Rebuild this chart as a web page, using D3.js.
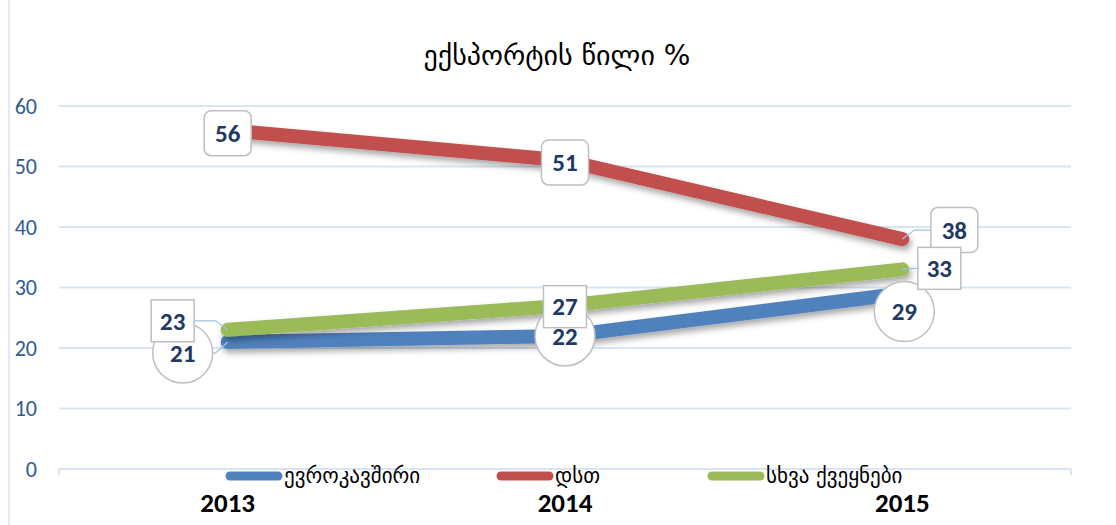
<!DOCTYPE html>
<html>
<head>
<meta charset="utf-8">
<script src="https://cdn.jsdelivr.net/npm/d3@7"></script>
<style>
  body { margin: 0; background: #fff; }
  svg { display: block; }
</style>
</head>
<body>
<div id="chart"></div>
<script>
// Chart data
const years = ["2013", "2014", "2015"];
const seriesNames = ["ევროკავშირი", "დსთ", "სხვა ქვეყნები"];
const euValues = [21, 22, 29];
const cisValues = [56, 51, 38];
const otherValues = [23, 27, 33];
const yTicks = [0, 10, 20, 30, 40, 50, 60];

const colors = ["#4F81BD", "#C0504D", "#9BBB59"];
const labelShapes = ["circle", "rounded", "square"];
// label offsets from the point (pixels), per series per year
const labelOffsets = [
  [[-45, 11], [0, 0], [2, 18]],
  [[0, 3], [0, 2], [52, -9]],
  [[-55, -9], [0, 1], [37, -1]]
];

const numFont = "Carlito, Calibri, Lato, sans-serif";
const geoFont = "'DejaVu Sans', sans-serif";

const width = 1116, height = 525;
const svg = d3.select("#chart").append("svg")
  .attr("width", width)
  .attr("height", height);

const defs = svg.append("defs");
const shadow = defs.append("filter").attr("id", "shadow")
  .attr("x", "-10%").attr("y", "-50%").attr("width", "120%").attr("height", "200%");
shadow.append("feDropShadow")
  .attr("dx", 2).attr("dy", 4).attr("stdDeviation", 3)
  .attr("flood-color", "#000").attr("flood-opacity", 0.35);

const x = d3.scaleBand().domain(years).range([59, 1071]);
const y = d3.scaleLinear().domain([0, 60]).range([469, 106]);
const cx = d => x(d) + x.bandwidth() / 2;

// outer border
svg.append("line")
  .attr("x1", 9).attr("x2", 9).attr("y1", 0).attr("y2", height)
  .attr("stroke", "#D6E3F3").attr("stroke-width", 1.5);

// gridlines
svg.append("g").selectAll("line")
  .data(yTicks)
  .join("line")
  .attr("x1", 59).attr("x2", 1071)
  .attr("y1", d => y(d)).attr("y2", d => y(d))
  .attr("stroke", "#D9E5F4").attr("stroke-width", 2);

// y-axis labels
const yAxis = d3.axisLeft(y).tickValues(yTicks).tickSize(0).tickPadding(0);
svg.append("g")
  .attr("transform", "translate(37,0)")
  .call(yAxis)
  .call(g => g.select(".domain").remove())
  .call(g => g.selectAll("text")
    .attr("font-family", numFont)
    .attr("font-size", 22)
    .attr("fill", "#2E5A8E"));

// category ticks
svg.append("g").selectAll("line")
  .data([59, 1071])
  .join("line")
  .attr("x1", d => d).attr("x2", d => d)
  .attr("y1", 469).attr("y2", 475)
  .attr("stroke", "#D9E5F4").attr("stroke-width", 2);

// x-axis labels
const xAxis = d3.axisBottom(x).tickSize(0).tickPadding(0);
svg.append("g")
  .attr("transform", "translate(0,493)")
  .call(xAxis)
  .call(g => g.select(".domain").remove())
  .call(g => g.selectAll("text")
    .attr("font-family", numFont)
    .attr("font-weight", "bold")
    .attr("font-size", 27)
    .attr("fill", "#000"));

// title
svg.append("text")
  .attr("x", 557).attr("y", 65)
  .attr("text-anchor", "middle")
  .attr("font-family", geoFont)
  .attr("font-size", 28)
  .attr("fill", "#000")
  .text("ექსპორტის წილი %");

const allSeries = [euValues, cisValues, otherValues];

// lines
const line = d3.line().x((d, i) => cx(years[i])).y(d => y(d));
svg.append("g").selectAll("path")
  .data(allSeries)
  .join("path")
  .attr("d", d => line(d))
  .attr("fill", "none")
  .attr("stroke", (d, i) => colors[i])
  .attr("stroke-width", 14)
  .attr("stroke-linecap", "round")
  .attr("stroke-linejoin", "round")
  .attr("filter", "url(#shadow)");

// data labels
const labelLayer = svg.append("g");
allSeries.forEach((vals, s) => {
  vals.forEach((v, i) => {
    const px = cx(years[i]), py = y(v);
    const lx = px + labelOffsets[s][i][0], ly = py + labelOffsets[s][i][1];
    if (Math.abs(labelOffsets[s][i][0]) > 30) {
      const dir = Math.sign(labelOffsets[s][i][0]);
      labelLayer.append("polyline")
        .attr("points", [[px, py], [px + dir * 12, ly], [lx - dir * 22, ly]].map(p => p.join(",")).join(" "))
        .attr("fill", "none")
        .attr("stroke", "#9DC3E6")
        .attr("stroke-width", 1.2);
    }
    const g = labelLayer.append("g").attr("transform", `translate(${lx},${ly})`);
    if (labelShapes[s] === "circle") {
      g.append("circle").attr("r", 30)
        .attr("fill", "#fff").attr("stroke", "#BFBFBF").attr("stroke-width", 1.5);
    } else {
      const w = labelShapes[s] === "rounded" ? 47 : 43;
      const h = labelShapes[s] === "rounded" ? 45 : 42;
      g.append("rect")
        .attr("x", -w / 2).attr("y", -h / 2).attr("width", w).attr("height", h)
        .attr("rx", labelShapes[s] === "rounded" ? 7 : 0)
        .attr("fill", "#fff").attr("stroke", "#BFBFBF").attr("stroke-width", 1.5);
    }
    g.append("text")
      .attr("text-anchor", "middle")
      .attr("dy", "0.35em")
      .attr("font-family", numFont)
      .attr("font-weight", "bold")
      .attr("font-size", 25)
      .attr("fill", "#1F3864")
      .text(v);
  });
});

// legend
const legendX = [226, 497, 708];
const legend = svg.append("g").selectAll("g")
  .data(seriesNames)
  .join("g")
  .attr("transform", (d, i) => `translate(${legendX[i]},476)`);
legend.append("line")
  .attr("x1", 4).attr("x2", 52)
  .attr("stroke", (d, i) => colors[i])
  .attr("stroke-width", 9)
  .attr("stroke-linecap", "round");
legend.append("text")
  .attr("x", 58).attr("dy", "0.35em")
  .attr("font-family", geoFont)
  .attr("font-size", 21)
  .attr("fill", "#000")
  .text(d => d);
</script>
</body>
</html>
